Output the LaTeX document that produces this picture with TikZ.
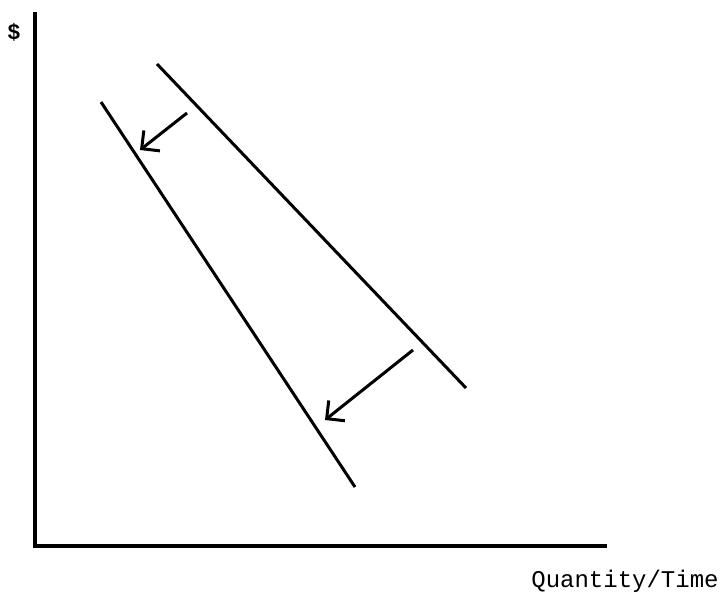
\documentclass[tikz,border=0pt]{standalone}
\usepackage{fontspec}
\setmonofont{Liberation Mono}
\usetikzlibrary{arrows.meta}
\begin{document}
\begin{tikzpicture}[x=1pt,y=-1pt,
  curve/.style={line width=3pt},
  axis/.style={line width=3.2pt},
  shiftarrow/.style={line width=3pt,-{Straight Barb[length=13pt,width=26pt,line width=3pt]}},
  lbl/.style={font=\ttfamily\fontsize{24}{27}\selectfont,inner sep=0pt}]
\useasboundingbox (0,0) rectangle (728,603);
\coordinate (ytop) at (35,12);
\coordinate (origin) at (35,546);
\coordinate (xend) at (607,546);
\draw[axis] (ytop) -- (origin) -- (xend);
\node[font=\ttfamily\bfseries\fontsize{22}{24}\selectfont,inner sep=0pt] (dollar) at (14,32) {\$};
\node[lbl] (qt) at (625,581) {Quantity/Time};
\coordinate (a1) at (101,102);
\coordinate (a2) at (355,487);
\coordinate (b1) at (157,64);
\coordinate (b2) at (466,388);
\draw[curve] (a1) -- (a2);
\draw[curve] (b1) -- (b2);
\coordinate (s1) at (187,113);
\coordinate (e1) at (140,150);
\coordinate (s2) at (413,350);
\coordinate (e2) at (325,420);
\draw[shiftarrow] (s1) -- (e1);
\draw[shiftarrow] (s2) -- (e2);
\end{tikzpicture}
\end{document}
